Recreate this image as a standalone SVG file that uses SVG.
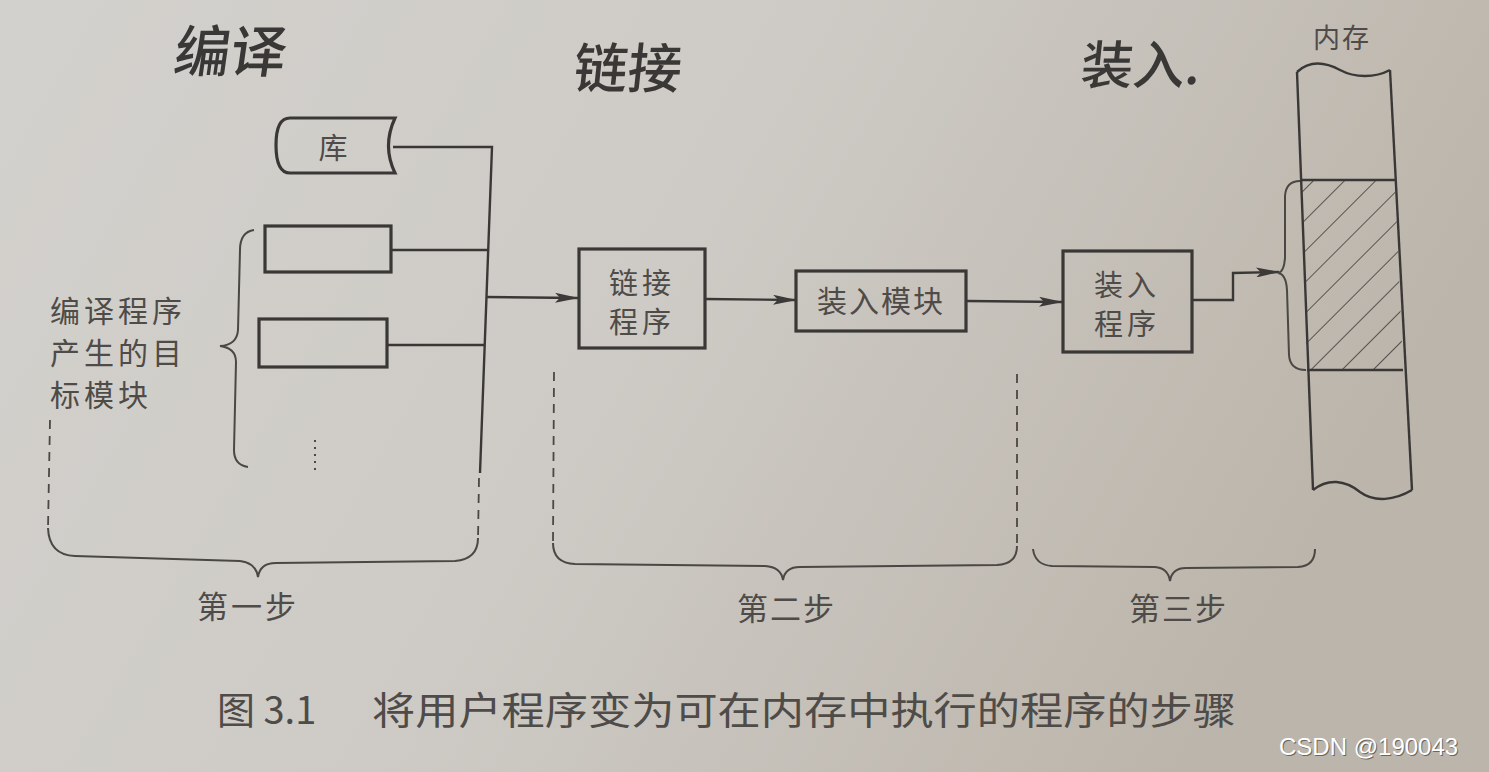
<svg xmlns="http://www.w3.org/2000/svg" width="1489" height="772" viewBox="0 0 1489 772">
<defs>
<linearGradient id="paper" x1="0" y1="0" x2="1" y2="0.3">
<stop offset="0" stop-color="#d3d1cd"/>
<stop offset="0.5" stop-color="#cecbc6"/>
<stop offset="1" stop-color="#bcb5ab"/>
</linearGradient>
<marker id="arr" viewBox="0 0 24 10" refX="23" refY="5" markerWidth="24" markerHeight="10" markerUnits="userSpaceOnUse" orient="auto">
<path d="M0,0 L24,5 L0,10 L5,5 Z" fill="#3c3a38"/>
</marker>
<pattern id="hatch" width="22" height="10" patternUnits="userSpaceOnUse" patternTransform="rotate(45)">
<line x1="0" y1="0" x2="0" y2="10" stroke="#4a4744" stroke-width="1.8"/>
</pattern>
<style>
.ln{fill:none;stroke:#3a3836;stroke-width:2.4}
.box{fill:none;stroke:#3a3836;stroke-width:3.2}
.dash{fill:none;stroke:#4a4744;stroke-width:1.8;stroke-dasharray:9 7}
.br{fill:none;stroke:#4a4744;stroke-width:2}
.t{font-family:"Noto Sans CJK SC","Noto Sans",sans-serif;fill:#4e4b48}
.hw{font-family:"Noto Sans CJK SC",sans-serif;fill:#3a3836;font-weight:500}
</style>
</defs>
<rect x="0" y="0" width="1489" height="772" fill="url(#paper)"/>

<g id="handwriting">
<text class="hw" x="175" y="72" font-size="56" transform="skewX(-8)" transform-origin="220 50">编译</text>
<text class="hw" x="575" y="88" font-size="54" transform="skewX(-6)" transform-origin="640 60">链接</text>
<text class="hw" x="1082" y="84" font-size="52" transform="skewX(-6)" transform-origin="1140 60">装入.</text>
</g>

<g id="connectors">
<path class="ln" d="M393,147 L492,147 L480,473"/>
<path class="ln" d="M391,250 L488,250"/>
<path class="ln" d="M387,345 L484,345"/>
<path class="ln" d="M486,297 L578,298" marker-end="url(#arr)"/>
<path class="ln" d="M705,299 L796,300" marker-end="url(#arr)"/>
<path class="ln" d="M966,301 L1062,302" marker-end="url(#arr)"/>
<path class="ln" d="M1192,300 L1233,300 L1233,273 L1279,272" marker-end="url(#arr)"/>
</g>

<g id="lib">
<path class="box" d="M290,118 L395,118 Q382,146 395,173 L290,173 Q276,173 276,145 Q276,118 290,118 Z"/>
<text class="t" x="333" y="159" font-size="29" text-anchor="middle">库</text>
</g>

<g id="module1"><rect class="box" x="265" y="226" width="126" height="46"/></g>
<g id="module2"><rect class="box" x="259" y="319" width="128" height="48"/></g>
<g id="dots"><line x1="315" y1="440" x2="315" y2="470" stroke="#4a4744" stroke-width="2" stroke-dasharray="2 5"/></g>

<g id="objlabel">
<path class="br" d="M254,230 Q240,232 240,250 L238,330 Q237,345 220,346 Q236,348 236,362 L234,450 Q234,465 248,467"/>
<text class="t" font-size="30" letter-spacing="4"><tspan x="50" y="322">编译程序</tspan><tspan x="50" y="364">产生的目</tspan><tspan x="50" y="406">标模块</tspan></text>
</g>

<g id="link">
<rect class="box" x="579" y="249" width="126" height="99"/>
<text class="t" font-size="29" letter-spacing="4"><tspan x="609" y="294">链接</tspan><tspan x="609" y="333">程序</tspan></text>
</g>

<g id="loadmodule">
<rect class="box" x="796" y="271" width="170" height="60"/>
<text class="t" x="817" y="312" font-size="30" letter-spacing="2">装入模块</text>
</g>

<g id="loader">
<rect class="box" x="1063" y="251" width="129" height="101"/>
<text class="t" font-size="29" letter-spacing="4"><tspan x="1094" y="296">装入</tspan><tspan x="1094" y="335">程序</tspan></text>
</g>

<g id="memory">
<text class="t" x="1313" y="48" font-size="27" letter-spacing="2">内存</text>
<polygon points="1301,180 1395,180 1403,370 1307,370" fill="url(#hatch)"/>
<path class="ln" d="M1297,72 C1310,60 1325,62 1340,70 C1355,78 1375,78 1390,70"/>
<path class="ln" d="M1297,72 L1313,490"/>
<path class="ln" d="M1390,70 L1412,490"/>
<path class="ln" d="M1313,490 C1328,478 1345,480 1360,492 C1375,503 1395,500 1412,490"/>
<path class="ln" d="M1301,180 L1395,180 M1307,370 L1403,370"/>
<path class="br" d="M1300,181 Q1286,181 1285,196 L1285,258 Q1284,272 1278,273 Q1286,274 1287,290 L1289,355 Q1290,370 1306,370"/>
</g>

<g id="steps">
<path class="dash" d="M50,420 L48,528"/>
<path class="dash" d="M479,478 L478,540"/>
<path class="dash" d="M554,372 L553,545"/>
<path class="dash" d="M1017,374 L1017,545"/>
<path class="br" d="M48,528 Q49,555 75,556 L240,561 Q256,563 258,577 Q260,563 276,563 L455,561 Q478,559 478,538"/>
<path class="br" d="M553,543 Q553,563 575,564 L765,566 Q781,567 783,580 Q785,567 800,567 L997,565 Q1017,564 1017,546"/>
<path class="br" d="M1033,549 Q1035,565 1052,566 L1155,567 Q1168,568 1170,581 Q1172,568 1186,568 L1298,567 Q1315,566 1315,549"/>
<text class="t" x="197" y="618" font-size="31" letter-spacing="3">第一步</text>
<text class="t" x="737" y="620" font-size="31" letter-spacing="2">第二步</text>
<text class="t" x="1129" y="620" font-size="31" letter-spacing="2">第三步</text>
</g>

<g id="caption">
<text class="t" x="217" y="724" font-size="38">图 3.1</text>
<text class="t" x="372" y="724" font-size="38" textLength="864" lengthAdjust="spacingAndGlyphs">将用户程序变为可在内存中执行的程序的步骤</text>
</g>

<g id="watermark">
<text x="1279" y="755" font-family="Liberation Sans, sans-serif" font-size="24" fill="#333" opacity="0.6" transform="translate(1,1)">CSDN @190043</text>
<text x="1279" y="755" font-family="Liberation Sans, sans-serif" font-size="24" fill="#ffffff">CSDN @190043</text>
</g>
</svg>
